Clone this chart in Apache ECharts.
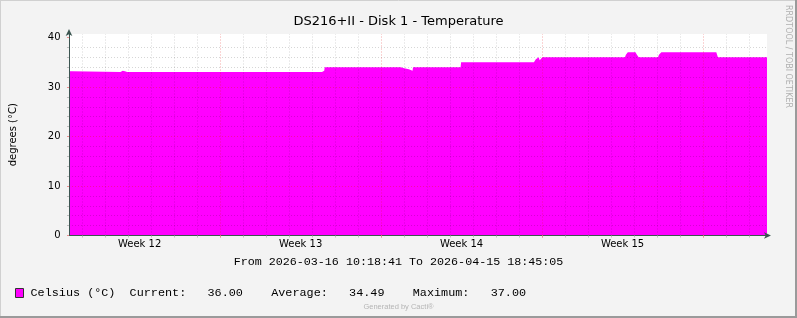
<!DOCTYPE html>
<html><head><meta charset="utf-8">
<script src="https://cdn.jsdelivr.net/npm/echarts@6/dist/echarts.min.js"></script>
<style>html,body{margin:0;padding:0;background:#f3f3f3;} #chart{width:797px;height:318px;}</style>
</head><body><div id="chart"></div>
<script>
// ---------- data ----------
const chartTitle = 'DS216+II - Disk 1 - Temperature';
const yAxisName = 'degrees (°C)';
const seriesName = 'Celsius (°C)';
const startTime = '2026-03-16 10:18:41';
const endTime = '2026-04-15 18:45:05';
const sampleTimes = [
  '2026-03-16 10:18:41', '2026-03-16 13:20', '2026-03-16 13:30',
  '2026-03-18 16:00', '2026-03-18 16:20', '2026-03-18 18:30', '2026-03-18 18:50',
  '2026-03-18 20:20', '2026-03-18 20:40', '2026-03-18 22:40', '2026-03-18 23:00',
  '2026-03-27 10:20', '2026-03-27 10:50', '2026-03-27 12:40', '2026-03-27 13:10',
  '2026-03-30 20:40', '2026-03-30 21:10', '2026-03-31 00:10', '2026-03-31 00:40',
  '2026-03-31 05:00', '2026-03-31 05:30', '2026-03-31 08:50', '2026-03-31 09:20',
  '2026-04-02 11:00', '2026-04-02 11:30',
  '2026-04-05 15:30', '2026-04-05 17:30', '2026-04-05 19:00', '2026-04-05 20:30',
  '2026-04-05 21:30', '2026-04-05 23:30', '2026-04-06 00:20',
  '2026-04-09 14:30', '2026-04-09 15:30', '2026-04-09 17:30', '2026-04-10 01:30',
  '2026-04-10 03:00', '2026-04-10 04:50',
  '2026-04-11 01:00', '2026-04-11 02:00', '2026-04-11 04:30', '2026-04-13 13:50',
  '2026-04-13 15:30', '2026-04-15 18:45:05'
];
const celsius = [
  33.2, 33.2, 33.0,
  33.0, 33.3, 33.3, 33.0,
  33.0, 33.2, 33.2, 33.0,
  33.0, 33.3, 33.3, 34.0,
  34.0, 33.8, 33.8, 33.6,
  33.6, 33.3, 33.3, 34.0,
  34.0, 35.0,
  35.0, 35.6, 36.0, 36.0,
  35.4, 35.4, 36.0,
  36.0, 36.5, 37.0, 37.0,
  36.5, 36.0,
  36.0, 36.5, 37.0, 37.0,
  36.0, 36.0
];
const weekNames = ['Week 12', 'Week 13', 'Week 14', 'Week 15'];
const weekStarts = ['2026-03-16', '2026-03-23', '2026-03-30', '2026-04-06'];
const yTickValues = [0, 10, 20, 30, 40];
const statNames = ['Current', 'Average', 'Maximum'];
const statValues = [36.00, 34.49, 37.00];
const footerText = 'Generated by Cacti®';
const watermark = 'RRDTOOL / TOBI OETIKER';

// ---------- helpers ----------
const DAY = 86400000;
const toMs = s => Date.parse((s.length === 10 ? s + ' 00:00' : s).replace(' ', 'T') + 'Z');
const startMs = toMs(startTime), endMs = toMs(endTime);
const seriesData = sampleTimes.map((t, i) => [toMs(t), celsius[i]]);
const dayTicks = [];
for (let d = Math.ceil(startMs / DAY) * DAY; d <= endMs; d += DAY) dayTicks.push(d);
const isMonday = ms => ((Math.round(ms / DAY) + 3) % 7) === 0;
const mondayTicks = dayTicks.filter(isMonday);
const weekCenters = weekStarts.map(s => toMs(s) + 3.5 * DAY);

const axisColor = '#3b5550';
const minorGrid = 'rgba(0,0,0,0.16)';
const majorGrid = 'rgba(225,30,30,0.38)';

const fmt = v => v.toFixed(2).padStart(8, ' ');
const legendLine = name => name + '  ' + statNames.map((n, i) => n + ':' + fmt(statValues[i])).join('    ');

const chart = echarts.init(document.getElementById('chart'), null, { renderer: 'canvas' });
chart.setOption({
  animation: false,
  backgroundColor: '#f3f3f3',
  title: [
    { text: chartTitle, left: 'center', top: 15, padding: 0,
      textStyle: { fontFamily: 'DejaVu Sans', fontSize: 13, fontWeight: 'normal', color: '#000' } },
    { text: 'From ' + startTime + ' To ' + endTime, left: 'center', top: 256, padding: 0,
      textStyle: { fontFamily: 'Liberation Mono', fontSize: 11.7, fontWeight: 'normal', color: '#000' } },
    { text: footerText, left: 'center', top: 303, padding: 0,
      textStyle: { fontFamily: 'Liberation Sans', fontSize: 7.5, fontWeight: 'normal', color: '#b5b5b5' } }
  ],
  legend: {
    left: 15, top: 287, padding: 0, itemWidth: 8, itemHeight: 9, icon: 'rect', selectedMode: false,
    data: [{ name: seriesName, itemStyle: { color: '#ff00ff', borderColor: '#333', borderWidth: 1 } }],
    formatter: legendLine,
    textStyle: { fontFamily: 'Liberation Mono', fontSize: 11.8, color: '#000', padding: [0, 0, 0, 2] }
  },
  grid: { left: 67, top: 34, width: 700, height: 201.5, show: true, backgroundColor: '#ffffff', borderWidth: 0 },
  xAxis: [{
    type: 'value', min: startMs, max: endMs, z: 4,
    axisLine: { show: true, onZero: false, lineStyle: { color: axisColor }, symbol: ['none', 'arrow'], symbolSize: [5, 7], symbolOffset: [0, 4] },
    axisTick: { show: true, customValues: dayTicks, length: 2, lineStyle: { color: '#bdbdbd' } },
    axisLabel: { show: true, customValues: weekCenters, margin: 4,
      formatter: v => { const i = weekCenters.indexOf(v); return i >= 0 ? weekNames[i] : ''; },
      fontFamily: 'DejaVu Sans', fontSize: 10, color: '#000' },
    splitLine: { show: false }
  }, {
    type: 'value', min: startMs, max: endMs, position: 'bottom', z: 4,
    axisLine: { show: false },
    axisTick: { show: true, customValues: mondayTicks, length: 2, lineStyle: { color: '#e89090' } },
    axisLabel: { show: false }, splitLine: { show: false }
  }],
  yAxis: {
    type: 'value', min: 0, max: 40.7, interval: 10, z: 4,
    name: yAxisName, nameLocation: 'middle', nameRotate: 90, nameGap: 51,
    nameTextStyle: { fontFamily: 'DejaVu Sans', fontSize: 10, color: '#000' },
    axisLine: { show: true, lineStyle: { color: axisColor }, symbol: ['none', 'arrow'], symbolSize: [5, 7], symbolOffset: [0, 5] },
    axisTick: { show: true, length: 2, customValues: yTickValues, lineStyle: { color: '#e89090' } },
    minorTick: { show: true, splitNumber: 5, length: 2, lineStyle: { color: '#bdbdbd' } },
    axisLabel: { customValues: yTickValues, margin: 8.5, fontFamily: 'DejaVu Sans', fontSize: 10, color: '#000' },
    splitLine: { show: true, showMinLine: false, showMaxLine: false, lineStyle: { color: majorGrid, type: [1, 2], width: 1 } },
    minorSplitLine: { show: true, lineStyle: { color: minorGrid, type: [1, 2], width: 1 } }
  },
  series: [{
    name: seriesName, type: 'line', data: seriesData, showSymbol: false, symbol: 'none',
    lineStyle: { width: 0, color: '#ff00ff' }, itemStyle: { color: '#ff00ff' },
    areaStyle: { color: '#ff00ff', opacity: 1 }, z: 2, silent: true,
    markLine: {
      silent: true, symbol: ['none', 'none'], label: { show: false }, animation: false,
      lineStyle: { type: [1, 2], width: 1, color: minorGrid },
      emphasis: { disabled: true },
      data: dayTicks.map(ms => ({ xAxis: ms, lineStyle: { color: isMonday(ms) ? majorGrid : minorGrid, type: [1, 2], width: 1 } }))
    }
  }],
  graphic: [
    { type: 'line', silent: true, shape: { x1: 0, y1: 0.5, x2: 797, y2: 0.5 }, style: { stroke: '#d0d0d0', lineWidth: 1 } },
    { type: 'line', silent: true, shape: { x1: 0.5, y1: 0, x2: 0.5, y2: 318 }, style: { stroke: '#d0d0d0', lineWidth: 1 } },
    { type: 'line', silent: true, shape: { x1: 0, y1: 317, x2: 797, y2: 317 }, style: { stroke: '#9a9a9a', lineWidth: 2 } },
    { type: 'line', silent: true, shape: { x1: 796, y1: 0, x2: 796, y2: 318 }, style: { stroke: '#9a9a9a', lineWidth: 2 } },
    { type: 'text', silent: true, x: 788, y: 5, rotation: -Math.PI / 2,
      style: { text: watermark, fill: '#b0b0b0', font: '8px "DejaVu Sans"', textAlign: 'left', textVerticalAlign: 'middle' } }
  ]
});
</script></body></html>
